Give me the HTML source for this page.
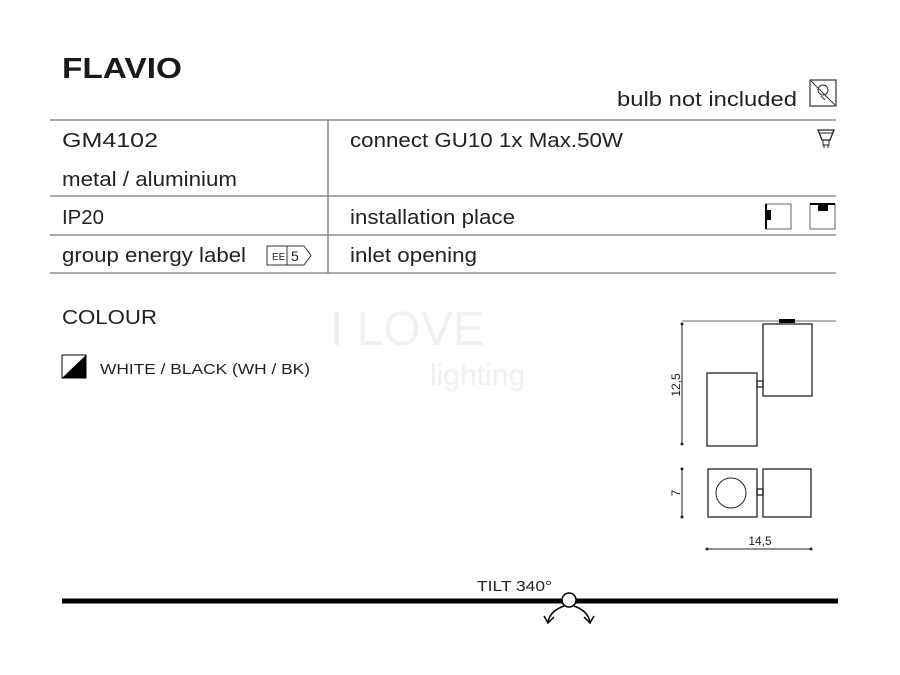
<!DOCTYPE html>
<html><head><meta charset="utf-8"><style>
body{margin:0;background:#fff;}
svg{display:block;font-family:"Liberation Sans",sans-serif;}
</style></head><body>
<svg width="900" height="675" viewBox="0 0 900 675">
<rect width="900" height="675" fill="#fff"/>
<text x="62" y="78" font-size="29" font-weight="bold" fill="#1a1a1a" textLength="120" lengthAdjust="spacingAndGlyphs">FLAVIO</text>
<text x="617" y="106" font-size="20" fill="#222" textLength="180" lengthAdjust="spacingAndGlyphs">bulb not included</text>
<rect x="810" y="80" width="26" height="26" fill="none" stroke="#333" stroke-width="1.2"/>
<line x1="811" y1="81" x2="835" y2="105" stroke="#333" stroke-width="1"/>
<circle cx="823" cy="90" r="5" fill="none" stroke="#333" stroke-width="1"/>
<line x1="821" y1="96" x2="825" y2="100" stroke="#333"/>
<g stroke="#777" stroke-width="1.3">
<line x1="50" y1="120" x2="836" y2="120"/>
<line x1="50" y1="196" x2="836" y2="196"/>
<line x1="50" y1="235" x2="836" y2="235"/>
<line x1="50" y1="273" x2="836" y2="273"/>
<line x1="328" y1="120" x2="328" y2="273"/>
</g>
<g font-size="20" fill="#222" lengthAdjust="spacingAndGlyphs">
<text x="62" y="147" textLength="96" lengthAdjust="spacingAndGlyphs">GM4102</text>
<text x="62" y="186" textLength="175" lengthAdjust="spacingAndGlyphs">metal / aluminium</text>
<text x="62" y="224" textLength="42" lengthAdjust="spacingAndGlyphs">IP20</text>
<text x="62" y="262" textLength="184" lengthAdjust="spacingAndGlyphs">group energy label</text>
<text x="350" y="147" textLength="273" lengthAdjust="spacingAndGlyphs">connect GU10 1x Max.50W</text>
<text x="350" y="224" textLength="165" lengthAdjust="spacingAndGlyphs">installation place</text>
<text x="350" y="262" textLength="127" lengthAdjust="spacingAndGlyphs">inlet opening</text>
</g>
<path d="M818 130 H834 L830 140 H822 Z" fill="none" stroke="#222" stroke-width="1.3"/>
<line x1="819" y1="133" x2="833" y2="133" stroke="#222"/>
<rect x="823" y="140" width="6" height="5" fill="none" stroke="#222"/>
<line x1="824" y1="145" x2="824" y2="148" stroke="#222"/><line x1="828" y1="145" x2="828" y2="148" stroke="#222"/>
<rect x="766" y="204" width="25" height="25" fill="none" stroke="#666"/>
<rect x="765" y="210" width="6" height="10" fill="#000"/>
<line x1="766" y1="204" x2="766" y2="229" stroke="#000" stroke-width="2"/>
<rect x="810" y="204" width="25" height="25" fill="none" stroke="#666"/>
<rect x="818" y="204" width="10" height="7" fill="#000"/>
<line x1="810" y1="204" x2="835" y2="204" stroke="#000" stroke-width="2"/>
<path d="M267 246 H304 L311 255.5 L304 265 H267 Z" fill="none" stroke="#333" stroke-width="1"/>
<line x1="287" y1="246" x2="287" y2="265" stroke="#333"/>
<text x="272" y="260" font-size="10" fill="#222">EE</text>
<text x="291" y="261" font-size="14" fill="#222">5</text>
<text x="62" y="324" font-size="20" fill="#222" textLength="95" lengthAdjust="spacingAndGlyphs">COLOUR</text>
<rect x="62" y="355" width="24" height="23" fill="#fff" stroke="#000" stroke-width="1"/>
<path d="M86 355 L86 378 L62 378 Z" fill="#000"/>
<text x="100" y="374" font-size="15" fill="#222" textLength="210" lengthAdjust="spacingAndGlyphs">WHITE / BLACK (WH / BK)</text>
<text x="330" y="345" font-size="48" fill="#f0f0f0">I LOVE</text>
<text x="430" y="385" font-size="30" fill="#f0f0f0">lighting</text>
<g fill="none" stroke="#222" stroke-width="1.3">
<line x1="682" y1="321" x2="836" y2="321" stroke="#888"/>
<rect x="763" y="324" width="49" height="72"/>
<rect x="707" y="373" width="50" height="73"/>
<rect x="757" y="381" width="6" height="6"/>
<rect x="708" y="469" width="49" height="48"/>
<rect x="763" y="469" width="48" height="48"/>
<rect x="757" y="489" width="6" height="6"/>
<circle cx="731" cy="493" r="15" stroke-width="1"/>
<line x1="682" y1="324" x2="682" y2="444" stroke-width="1"/>
<line x1="682" y1="469" x2="682" y2="517" stroke-width="1"/>
<line x1="707" y1="549" x2="811" y2="549" stroke-width="1"/>
</g>
<rect x="779" y="319" width="16" height="4" fill="#000"/>
<g fill="#222"><circle cx="682" cy="324" r="1.5"/><circle cx="682" cy="444" r="1.5"/><circle cx="682" cy="469" r="1.5"/><circle cx="682" cy="517" r="1.5"/><circle cx="707" cy="549" r="1.5"/><circle cx="811" cy="549" r="1.5"/></g>
<text transform="translate(680,385) rotate(-90)" font-size="12" fill="#222" text-anchor="middle">12,5</text>
<text transform="translate(680,493) rotate(-90)" font-size="12" fill="#222" text-anchor="middle">7</text>
<text x="760" y="545" font-size="12" fill="#222" text-anchor="middle">14,5</text>
<line x1="62" y1="601" x2="838" y2="601" stroke="#000" stroke-width="5"/>
<text x="477" y="591" font-size="15" fill="#222" textLength="75" lengthAdjust="spacingAndGlyphs">TILT 340°</text>
<circle cx="569" cy="600" r="7" fill="#fff" stroke="#000" stroke-width="1.5"/>
<path d="M564 606 Q550 611 548 622 M544 616 L548 623 L554 617" fill="none" stroke="#000" stroke-width="1.5"/>
<path d="M574 606 Q588 611 590 622 M584 617 L590 623 L594 616" fill="none" stroke="#000" stroke-width="1.5"/>
</svg>
</body></html>
